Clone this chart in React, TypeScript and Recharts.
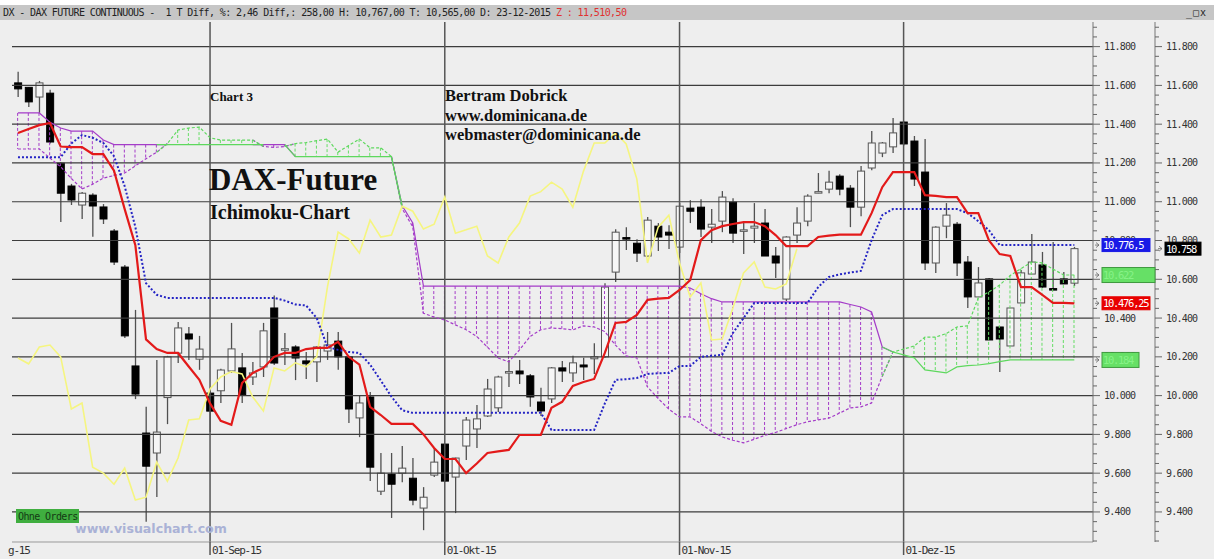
import React from 'react'
import {
  Bar,
  ComposedChart,
  Line,
  ReferenceDot,
  ReferenceLine,
  XAxis,
  YAxis,
} from 'recharts'

// daily bars, 06-Aug-2015 .. 23-Dec-2015 (100 sessions)
const opens = [
  11613, 11590, 11540, 11560, 11199, 11081, 10983, 11034, 10973, 10849,
  10663, 10153, 9807, 9704, 9990, 10219, 10318, 10188, 10013, 10025,
  10127, 10143, 10096, 10148, 10452, 10238, 10251, 10179, 10174, 10230,
  10281, 10200, 9885, 9993, 9507, 9595, 9600, 9574, 9420, 9590,
  9750, 9580, 9740, 9828, 9895, 9937, 10120, 10127, 10102, 9967,
  9983, 10143, 10117, 10158, 10190, 10200, 10637, 10815, 10786, 10720,
  10874, 10843, 10766, 10967, 10972, 10869, 10900, 10998, 10850, 10864,
  10890, 10720, 10498, 10828, 10900, 11048, 11065, 11132, 11070, 10972,
  11174, 11251, 11283, 11411, 11313, 11153, 10684, 10874, 10884, 10689,
  10509, 10602, 10354, 10256, 10478, 10627, 10674, 10552, 10602, 10580,
]
const highs = [
  11670, 11592, 11623, 11577, 11205, 11092, 11050, 11044, 10988, 10860,
  10674, 10442, 9942, 10184, 10205, 10380, 10354, 10308, 10030, 10138,
  10375, 10220, 10174, 10375, 10517, 10323, 10260, 10225, 10255, 10328,
  10328, 10205, 10003, 10019, 9704, 9704, 9740, 9678, 9528, 9730,
  9752, 9680, 9890, 9952, 10086, 10102, 10184, 10184, 10112, 10040,
  10148, 10179, 10205, 10195, 10270, 10580, 10858, 10869, 10807, 10921,
  10890, 10879, 10993, 11008, 11013, 10962, 11055, 11018, 10900, 10993,
  10962, 10766, 10822, 10972, 11039, 11148, 11160, 11142, 11086, 11184,
  11365, 11308, 11432, 11415, 11339, 11323, 10874, 10993, 10895, 10720,
  10663, 10607, 10354, 10452, 10648, 10833, 10741, 10792, 10638, 10767,
]
const lows = [
  11540, 11489, 11458, 11300, 10895, 10983, 10911, 10820, 10885, 10674,
  10297, 9982, 9349, 9477, 9853, 10168, 10184, 10133, 9812, 9962,
  10117, 9962, 10055, 10096, 10158, 10158, 10080, 10086, 10070, 10184,
  10133, 9859, 9786, 9559, 9487, 9369, 9553, 9435, 9306, 9580,
  9555, 9394, 9668, 9730, 9890, 9916, 10045, 10060, 9942, 9895,
  9962, 10070, 10070, 10080, 10112, 10195, 10586, 10751, 10689, 10715,
  10746, 10756, 10735, 10890, 10818, 10787, 10843, 10787, 10730, 10787,
  10720, 10607, 10488, 10787, 10874, 11044, 11044, 11034, 10869, 10925,
  11163, 11230, 11251, 11290, 11081, 10648, 10632, 10812, 10617, 10452,
  10509, 10287, 10122, 10256, 10478, 10627, 10555, 10545, 10576, 10565,
]
const closes = [
  11582, 11515, 11613, 11308, 11044, 11009, 11044, 10978, 10911, 10689,
  10308, 10008, 9636, 9812, 10200, 10349, 10292, 10240, 9920, 10132,
  10241, 10004, 10117, 10334, 10168, 10242, 10194, 10164, 10251, 10261,
  10200, 9931, 9962, 9631, 9600, 9543, 9626, 9461, 9476, 9657,
  9559, 9678, 9874, 9880, 10034, 10096, 10124, 10112, 9993, 9921,
  10143, 10127, 10169, 10148, 10200, 10560, 10843, 10808, 10735, 10905,
  10818, 10828, 10977, 10951, 10859, 10884, 11024, 10838, 10855, 10874,
  10720, 10684, 10818, 10890, 11029, 11052, 11101, 11065, 10972, 11158,
  11303, 11303, 11355, 11298, 11117, 10684, 10869, 10931, 10684, 10509,
  10581, 10287, 10292, 10452, 10633, 10689, 10560, 10550, 10576, 10758,
]

// Ichimoku lines
const tenkan = [
  11354, 11375, 11395, 11406, 11285, 11282, 11282, 11246, 11246, 11160,
  10962, 10776, 10290, 10240, 10220, 10220, 10150, 10081, 9960, 9870,
  9849, 10065, 10117, 10143, 10200, 10220, 10220, 10240, 10246, 10246,
  10277, 10200, 10160, 9942, 9900, 9854, 9854, 9854, 9800, 9730,
  9673, 9673, 9600, 9650, 9704, 9712, 9720, 9797, 9797, 9797,
  9937, 9968, 10050, 10070, 10086, 10220, 10375, 10380, 10416, 10494,
  10500, 10504, 10545, 10596, 10802, 10853, 10874, 10885, 10895, 10895,
  10874, 10828, 10771, 10771, 10771, 10818, 10825, 10830, 10830, 10830,
  10941, 11075, 11153, 11153, 11153, 11034, 11030, 11024, 11024, 10941,
  10941, 10800, 10730, 10720, 10560, 10560, 10520, 10478, 10478, 10476.25,
]
const kijun = [
  11230, 11230, 11230, 11230, 11230, 11300, 11344, 11330, 11303, 11235,
  11080, 10870, 10580, 10520, 10504, 10504, 10504, 10504, 10504, 10504,
  10504, 10504, 10504, 10504, 10504, 10490, 10470, 10465, 10400, 10251,
  10236, 10225, 10220, 10160, 10078, 9995, 9925, 9911, 9911, 9911,
  9911, 9911, 9911, 9911, 9911, 9911, 9911, 9911, 9911, 9911,
  9823, 9823, 9823, 9823, 9823, 9960, 10081, 10085, 10091, 10112,
  10115, 10117, 10153, 10153, 10200, 10205, 10210, 10323, 10400, 10478,
  10478, 10478, 10478, 10478, 10478, 10560, 10612, 10625, 10635, 10643,
  10802, 10931, 10962, 10962, 10962, 10962, 10962, 10962, 10962, 10941,
  10900, 10853, 10776.5, 10776.5, 10776.5, 10776.5, 10776.5, 10776.5, 10776.5, 10776.5,
]
const senkouA = [
  11272, 11272, 11272, 11225, 11180, 11120, 11066, 11090, 11122, 11135,
  11148, 11185, 11222, 11255, 11300, 11370, 11380, 11385, 11330, 11318,
  11318, 11318, 11318, 11285, 11280, 11285, 11300, 11305, 11315, 11323,
  11256, 11290, 11323, 11278, 11278, 11233, 10965, 10870, 10425, 10405,
  10390, 10365, 10340, 10305, 10250, 10194, 10174, 10236, 10305, 10340,
  10349, 10345, 10339, 10360, 10354, 10330, 10260, 10205, 10194, 10045,
  9985, 9930, 9890, 9890, 9855, 9815, 9787, 9770, 9756, 9775,
  9795, 9810, 9830, 9850, 9865, 9875, 9884, 9910, 9937, 9942,
  9962, 10100, 10225, 10240, 10256, 10302, 10302, 10320, 10354, 10360,
  10504, 10535, 10570, 10620, 10655, 10689, 10685, 10653, 10622, 10622,
]
const senkouB = [
  11458, 11458, 11458, 11410, 11380, 11364, 11364, 11364, 11318, 11295,
  11295, 11295, 11295, 11295, 11295, 11295, 11295, 11295, 11295, 11295,
  11295, 11295, 11295, 11295, 11295, 11295, 11233, 11233, 11233, 11233,
  11233, 11233, 11233, 11233, 11233, 11233, 10980, 10890, 10565, 10565,
  10565, 10565, 10565, 10565, 10565, 10565, 10565, 10565, 10565, 10565,
  10565, 10565, 10565, 10565, 10565, 10565, 10565, 10565, 10565, 10565,
  10565, 10565, 10565, 10555, 10525, 10500, 10483, 10483, 10483, 10483,
  10483, 10483, 10483, 10483, 10483, 10483, 10483, 10483, 10470, 10457,
  10431, 10251, 10225, 10210, 10195, 10133, 10125, 10117, 10148, 10155,
  10158, 10165, 10175, 10184, 10184, 10184, 10184, 10184, 10184, 10184,
]
const CHIKOU_SHIFT = 26

const monthTicks = [-0.56, 18, 40, 62, 83]
const monthLabels = ['g-15', '01-Sep-15', '01-Okt-15', '01-Nov-15', '01-Dez-15']
const priceTicks = [9400, 9600, 9800, 10000, 10200, 10400, 10600, 10800, 11000, 11200, 11400, 11600, 11800]

const xDomain = [-0.56, 100.75]
const yDomain = [9245, 11927]

const minorTicks: number[] = []
for (let v = 9250; v <= 11900; v += 50) minorTicks.push(v)

const isBull = (i: number) => senkouA[i] >= senkouB[i]

const data = closes.map((c, i) => {
  const near = [i - 1, i, i + 1].filter((k) => k >= 0 && k < closes.length)
  const green = near.some((k) => isBull(k))
  const purple = near.some((k) => !isBull(k))
  const a = senkouA[i]
  const b = senkouB[i]
  return {
    i,
    open: opens[i],
    high: highs[i],
    low: lows[i],
    close: c,
    range: [lows[i], highs[i]],
    cloud: [Math.min(a, b), Math.max(a, b)],
    bull: isBull(i),
    tenkan: tenkan[i],
    kijun: kijun[i],
    chikou: i + CHIKOU_SHIFT < closes.length ? closes[i + CHIKOU_SHIFT] : null,
    aG: green ? a : null,
    bG: green ? b : null,
    aP: purple ? a : null,
    bP: purple ? b : null,
  }
})

const last = closes.length - 1

const fmtDe = (v: number) => {
  const [int, dec] = String(v).split('.')
  const g = int.replace(/\B(?=(\d{3})+(?!\d))/g, '.')
  return dec ? `${g},${dec}` : g
}

const MONO = '"DejaVu Sans Mono", monospace'
const SERIF = '"Liberation Serif", "Times New Roman", serif'
const MARGIN = { top: 22, right: 0, bottom: 0, left: 12 }

function CandleShape(props: any) {
  const { x, y, width, height, payload } = props
  if (!payload || height == null) return <g />
  const top = Math.min(y, y + height)
  const h = Math.abs(height)
  const span = payload.high - payload.low || 1
  const py = (v: number) => top + ((payload.high - v) / span) * h
  const cx = x + width / 2
  const up = payload.close >= payload.open
  const bTop = py(Math.max(payload.open, payload.close))
  const bBot = py(Math.min(payload.open, payload.close))
  return (
    <g>
      <line x1={cx} x2={cx} y1={top} y2={top + h} stroke="#505050" strokeWidth={1.3} />
      <rect
        x={cx - 3.5}
        y={bTop}
        width={7}
        height={Math.max(1.5, bBot - bTop)}
        fill={up ? '#f6f6f6' : '#000'}
        stroke={up ? '#555' : '#000'}
        strokeWidth={1}
      />
    </g>
  )
}

function HatchShape(props: any) {
  const { x, y, width, height, payload } = props
  if (!payload || !height) return <g />
  const top = Math.min(y, y + height)
  const h = Math.abs(height)
  if (h < 1) return <g />
  const cx = x + width / 2
  return (
    <line
      x1={cx}
      x2={cx}
      y1={top}
      y2={top + h}
      stroke={payload.bull ? '#66dd66' : '#a43cc8'}
      strokeWidth={1}
      strokeDasharray="3 2"
    />
  )
}

function PriceTick(props: any) {
  const { x, y, payload } = props
  const v = payload.value
  const major = v % 200 === 0
  return (
    <g>
      <line x1={x} x2={x + (major ? 7 : 4)} y1={y} y2={y} stroke="#666" />
      {major && (
        <text
          x={x + 11}
          y={y + 3.5}
          fontFamily={MONO}
          fontSize={10}
          letterSpacing={-0.8}
          fill="#333"
        >
          {fmtDe(v)}
        </text>
      )}
    </g>
  )
}

function MonthTick(props: any) {
  const { x, y, payload } = props
  const k = monthTicks.indexOf(payload.value)
  const first = k === 0
  return (
    <g>
      {!first && <line x1={x} x2={x} y1={y} y2={y + 13} stroke="#555" strokeWidth={1.5} />}
      <text
        x={first ? x - 4 : x + 2}
        y={y + 12}
        fontFamily={MONO}
        fontSize={11}
        letterSpacing={-1.2}
        fill="#333"
      >
        {monthLabels[k] ?? ''}
      </text>
    </g>
  )
}

function badge(text: string, bg: string, fg: string, dx: number, w: number, h: number, border?: string) {
  return (props: any) => {
    const { cx, cy } = props
    return (
      <g>
        <path
          d={`M${cx + dx - 3} ${cy} l-3 -2.5 M${cx + dx - 3} ${cy} l-3 2.5 M${cx + dx - 3} ${cy} h-4`}
          stroke="#666"
          strokeWidth={0.8}
          fill="none"
        />
        <rect x={cx + dx} y={cy - h / 2} width={w} height={h} fill={bg} stroke={border ?? bg} />
        <text
          x={cx + dx + 1}
          y={cy + 4}
          fontFamily={MONO}
          fontSize={10.5}
          letterSpacing={-1.3}
          fill={fg}
        >
          {text}
        </text>
      </g>
    )
  }
}

export default function App() {
  return (
    <div style={{ position: 'absolute', left: 0, top: 0, width: 1214, height: 559, background: '#fff' }}>
      <div style={{ position: 'absolute', left: 0, top: 20, width: 1214, height: 539, background: '#eeeeee' }} />
      <div
        style={{
          position: 'absolute',
          left: 0,
          top: 5,
          width: 1214,
          height: 15,
          background: '#c6c6c6',
          fontFamily: MONO,
          fontSize: 10,
          letterSpacing: -0.6,
          lineHeight: '15px',
          whiteSpace: 'pre',
          color: '#222',
        }}
      >
        <span style={{ marginLeft: 3 }}>
          {'DX - DAX FUTURE CONTINUOUS -  1 T Diff, %: 2,46 Diff,: 258,00 H: 10,767,00 T: 10,565,00 D: 23-12-2015 '}
        </span>
        <span style={{ color: '#e03030' }}>{'Z : 11,510,50'}</span>
        <span style={{ position: 'absolute', left: 1186, top: 0, letterSpacing: 1 }}>{'_□x'}</span>
      </div>

      {/* main chart */}
      <div style={{ position: 'absolute', left: 0, top: 0 }}>
        <ComposedChart width={1214} height={559} data={data} margin={MARGIN}>
          <XAxis
            dataKey="i"
            type="number"
            domain={xDomain}
            allowDataOverflow
            ticks={monthTicks}
            interval={0}
            tick={MonthTick}
            tickLine={false}
            tickSize={0}
            tickMargin={0}
            height={17}
            axisLine={{ stroke: '#999' }}
          />
          <XAxis xAxisId="h" dataKey="i" type="number" domain={xDomain} allowDataOverflow hide />
          <YAxis
            orientation="right"
            domain={yDomain}
            allowDataOverflow
            ticks={minorTicks}
            interval={0}
            tick={PriceTick}
            tickLine={false}
            tickSize={0}
            tickMargin={0}
            width={62}
            axisLine={{ stroke: '#777' }}
          />
          <YAxis
            yAxisId="r2"
            orientation="right"
            domain={yDomain}
            allowDataOverflow
            ticks={minorTicks}
            interval={0}
            tick={PriceTick}
            tickLine={false}
            tickSize={0}
            tickMargin={0}
            width={59}
            axisLine={{ stroke: '#777' }}
          />

          {priceTicks.map((v) => (
            <ReferenceLine key={v} y={v} stroke="#3c3c3c" strokeWidth={1.2} />
          ))}
          {monthTicks.slice(1).map((t) => (
            <ReferenceLine key={t} x={t} stroke="#555" strokeWidth={1.5} />
          ))}

          <Bar dataKey="range" barSize={7} shape={CandleShape} isAnimationActive={false} />
          <Bar xAxisId="h" dataKey="cloud" barSize={2} shape={HatchShape} isAnimationActive={false} />

          <Line dataKey="bP" stroke="#a43cc8" strokeWidth={1.2} dot={false} activeDot={false} isAnimationActive={false} />
          <Line dataKey="aP" stroke="#a43cc8" strokeWidth={1.2} strokeDasharray="3 2" dot={false} activeDot={false} isAnimationActive={false} />
          <Line dataKey="bG" stroke="#5ed85e" strokeWidth={1.2} dot={false} activeDot={false} isAnimationActive={false} />
          <Line dataKey="aG" stroke="#5ed85e" strokeWidth={1.2} strokeDasharray="3 2" dot={false} activeDot={false} isAnimationActive={false} />
          <Line dataKey="chikou" stroke="#f5f580" strokeWidth={1.6} dot={false} activeDot={false} isAnimationActive={false} />
          <Line dataKey="kijun" stroke="#2424c4" strokeWidth={2} strokeDasharray="2 2" dot={false} activeDot={false} isAnimationActive={false} />
          <Line dataKey="tenkan" stroke="#e31a1a" strokeWidth={2.2} dot={false} activeDot={false} isAnimationActive={false} />
          <Line yAxisId="r2" dataKey="close" stroke="none" dot={false} activeDot={false} isAnimationActive={false} />
        </ComposedChart>
      </div>

      {/* price badges on the axes, drawn above the tick labels */}
      <div style={{ position: 'absolute', left: 0, top: 0 }}>
        <ComposedChart width={1214} height={559} data={data} margin={MARGIN}>
          <XAxis dataKey="i" type="number" domain={xDomain} allowDataOverflow tick={false} axisLine={false} tickLine={false} height={17} />
          <YAxis orientation="right" domain={yDomain} allowDataOverflow tick={false} axisLine={false} tickLine={false} width={62} />
          <YAxis yAxisId="r2" orientation="right" domain={yDomain} allowDataOverflow tick={false} axisLine={false} tickLine={false} width={59} />
          <Line dataKey="close" stroke="none" dot={false} activeDot={false} isAnimationActive={false} />
          <Line yAxisId="r2" dataKey="close" stroke="none" dot={false} activeDot={false} isAnimationActive={false} />
          <ReferenceDot x={xDomain[1]} y={senkouA[last]} r={0} ifOverflow="visible"
            shape={badge(fmtDe(senkouA[last]), '#66e066', '#86f286', 9, 53, 15, '#3f9a3f')} />
          <ReferenceDot x={xDomain[1]} y={senkouB[last]} r={0} ifOverflow="visible"
            shape={badge(fmtDe(senkouB[last]), '#66e066', '#86f286', 9, 37, 15, '#3f9a3f')} />
          <ReferenceDot x={xDomain[1]} y={kijun[last]} r={0} ifOverflow="visible"
            shape={badge(fmtDe(kijun[last]), '#1a1ae6', '#fff', 9, 48, 13)} />
          <ReferenceDot x={xDomain[1]} y={tenkan[last]} r={0} ifOverflow="visible"
            shape={badge(fmtDe(tenkan[last]), '#e80000', '#fff', 9, 48, 13)} />
          <ReferenceDot yAxisId="r2" x={xDomain[1]} y={closes[last]} r={0} ifOverflow="visible"
            shape={badge(fmtDe(closes[last]), '#000', '#fff', 72, 36, 13)} />
        </ComposedChart>
      </div>

      <svg
        width={1214}
        height={559}
        style={{ position: 'absolute', left: 0, top: 0, pointerEvents: 'none' }}
      >
        <text x={210} y={101} fontFamily={SERIF} fontWeight="bold" fontSize={13} fill="#111">Chart 3</text>
        <text x={445} y={101} fontFamily={SERIF} fontWeight="bold" fontSize={16.5} fill="#111">Bertram Dobrick</text>
        <text x={445} y={120.5} fontFamily={SERIF} fontWeight="bold" fontSize={16.5} fill="#111">www.dominicana.de</text>
        <text x={445} y={140} fontFamily={SERIF} fontWeight="bold" fontSize={16.5} fill="#111">webmaster@dominicana.de</text>
        <text x={209} y={190} fontFamily={SERIF} fontWeight="bold" fontSize={31} fill="#111">DAX-Future</text>
        <text x={210} y={219} fontFamily={SERIF} fontWeight="bold" fontSize={20} fill="#111">Ichimoku-Chart</text>
        <rect x={16} y={509} width={63} height={14} fill="#3fae3f" />
        <text x={18} y={520} fontFamily={MONO} fontSize={10} letterSpacing={-0.6} fill="#143a14">Ohne Orders</text>
        <text x={75} y={533} fontFamily='"DejaVu Sans", sans-serif' fontWeight="bold" fontSize={12.6} fill="#aab2d6">www.visualchart.com</text>
      </svg>
    </div>
  )
}
